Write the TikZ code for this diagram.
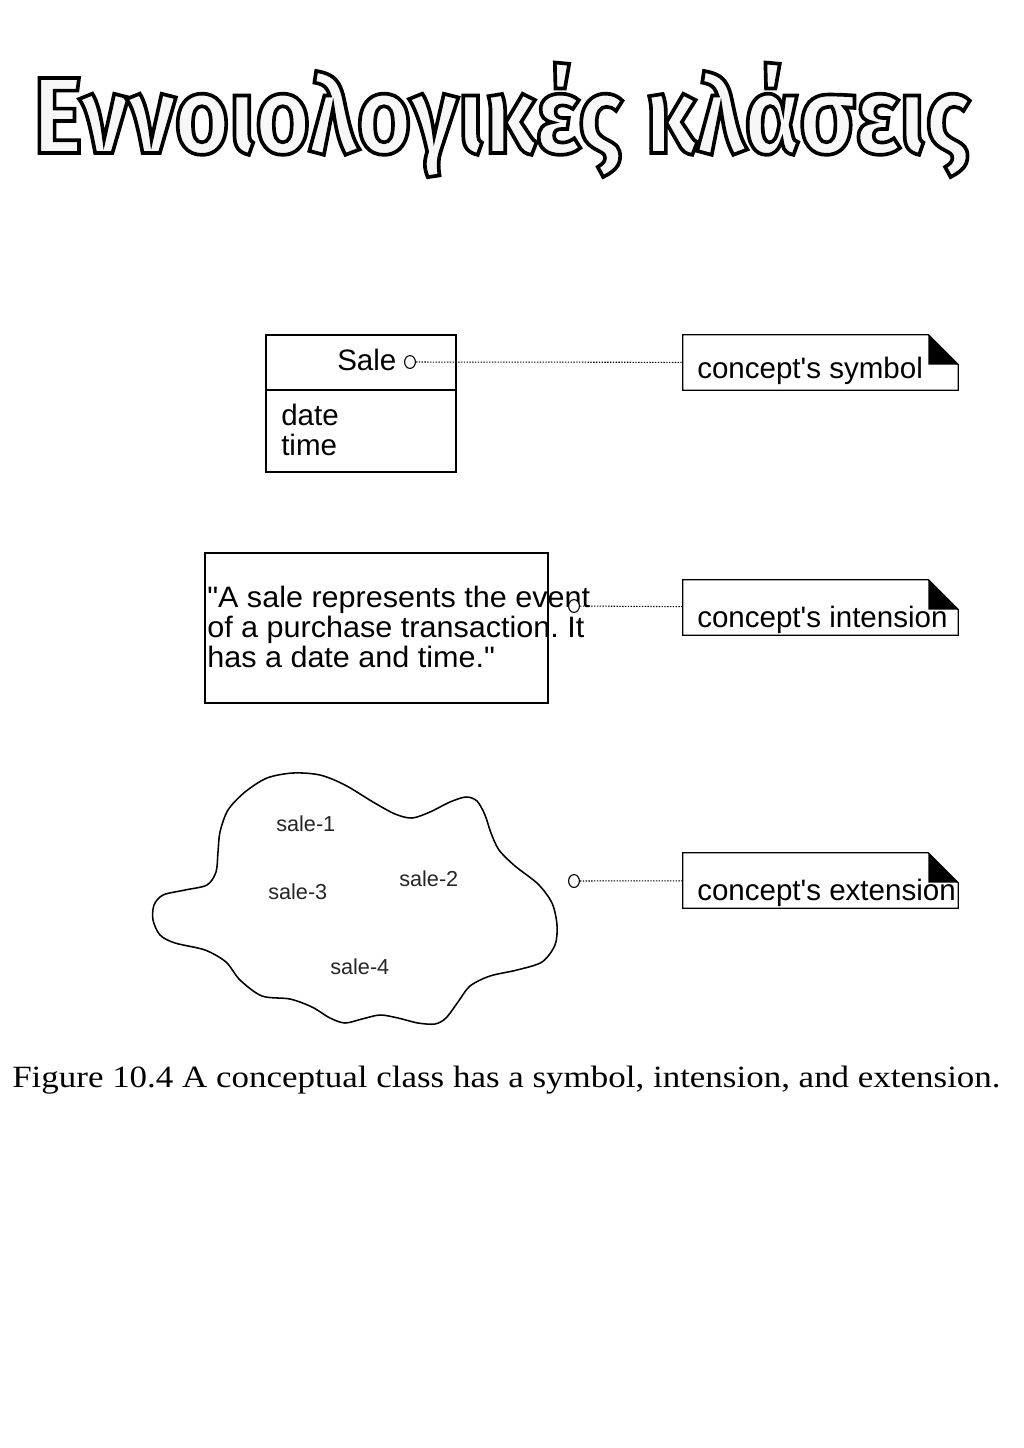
\documentclass[tikz,border=0pt]{standalone}
\usepackage{fontspec}
\setmainfont{Liberation Sans}[Ligatures=TeXOff]
\newfontfamily\titlefont{Fira Sans}[FakeStretch=0.862]
\newfontfamily\capfont{Liberation Serif}[FakeStretch=1.13]
\newfontfamily\quotefont{Liberation Sans}[Ligatures=TeXOff, FakeStretch=1.035]
\usetikzlibrary{calc,shapes.geometric}
\newcommand\notebox[1]{%
  \draw[umlline] (#1.north west) -- ($(#1.north east)+(-30,0)$) -- ($(#1.north east)+(0,30)$) -- (#1.south east) -- (#1.south west) -- cycle;
  \fill ($(#1.north east)+(-30,0)$) -- ($(#1.north east)+(0,30)$) -- ($(#1.north east)+(-30,30)$) -- cycle;}
\begin{document}
\frenchspacing
\begin{tikzpicture}[x=0.025cm,y=-0.025cm,
  umlline/.style={line width=0.9pt},
  rectbox/.style={draw, line width=0.9pt, inner sep=0, minimum width=4.75cm},
  notenode/.style={inner sep=0, minimum width=6.875cm, minimum height=1.375cm},
  txt/.style={anchor=base west, inner sep=0, font=\fontsize{21}{21.3}\selectfont},
  qtxt/.style={anchor=base west, inner sep=0, font=\quotefont\fontsize{21}{21.3}\selectfont},
  smalltxt/.style={anchor=base west, inner sep=0, font=\fontsize{15.4}{16}\selectfont, text=black!85},
  dotc/.style={draw, ellipse, line width=0.8pt, minimum width=0.27cm, minimum height=0.32cm, inner sep=0},
  conn/.style={line width=0.75pt, dash pattern=on 1pt off 1pt}]
\fill[white] (0,0) rectangle (1024,1448);
\useasboundingbox (0,0) rectangle (1024,1448);

% title
\node[anchor=base west, inner sep=0] (title) at (33,153) {\titlefont\bfseries\fontsize{77}{80}\selectfont\special{pdf:literal direct 2 Tr 2.6 w 0 G 0.97 g}Εννοιολογικές κλάσεις\special{pdf:literal direct 0 Tr 0 g 0 G}};

% symbol
\node[rectbox, minimum height=1.375cm] (saleh) at (361,362.5) {};
\node[rectbox, minimum height=2.05cm] (salea) at (361,431) {};
\node[txt] (salet) at (337,370.5) {Sale};
\node[txt] (datet) at (281,425) {date};
\node[txt] (timet) at (281,455) {time};
\node[dotc] (c1) at (410,362) {};
\node[notenode] (n1) at (820.5,362.5) {};
\notebox{n1}
\node[txt] (n1t) at (697,378) {concept's symbol};
\draw[conn] (c1) -- (n1);

% intension
\node[draw, line width=0.9pt, inner sep=0, minimum width=8.575cm, minimum height=3.75cm] (quote) at (376.5,628) {};
\node[qtxt] (q1) at (207,607.5) {"A sale represents the event};
\node[qtxt] (q2) at (207,637.5) {of a purchase transaction. It};
\node[qtxt] (q3) at (207,667.5) {has a date and time."};
\node[dotc, fill=white] (c2) at (574,606) {};
\node[notenode] (n2) at (820.5,607.5) {};
\notebox{n2}
\node[txt] (n2t) at (697,627) {concept's intension};
\draw[conn] (c2) -- (n2);

% extension
\draw[line width=1.1pt] plot[smooth cycle, tension=0.5] coordinates {
(267,778) (293,773) (320,775) (345,785) (373,802) (395,814) (412,818) (430,812) (450,802) (466,797) (477,801) (485,815) (491,833) (499,850) (515,866) (538,884) (552,903) (557,925) (555,945) (542,962) (517,970) (490,976) (470,986) (458,1002) (446,1018) (435,1024) (418,1023) (398,1018) (380,1015) (362,1019) (345,1023) (330,1018) (312,1007) (290,999) (262,996) (240,980) (226,962) (205,950) (175,943) (160,935) (153,920) (154,905) (163,895) (185,890) (207,885) (216,872) (218,852) (220,832) (228,810) (245,792)};
\node[smalltxt] (s1) at (276,831) {sale-1};
\node[smalltxt] (s3) at (268,899) {sale-3};
\node[smalltxt] (s2) at (399,886) {sale-2};
\node[smalltxt] (s4) at (330,974) {sale-4};
\node[dotc] (c3) at (574,881) {};
\node[notenode] (n3) at (820.5,880.5) {};
\notebox{n3}
\node[txt] (n3t) at (697,900) {concept's extension};
\draw[conn] (c3) -- (n3);

% caption
\node[anchor=base west, inner sep=0] (cap) at (12,1087) {\capfont\fontsize{22}{22}\selectfont Figure 10.4 A conceptual class has a symbol, intension, and extension.};
\end{tikzpicture}
\end{document}
